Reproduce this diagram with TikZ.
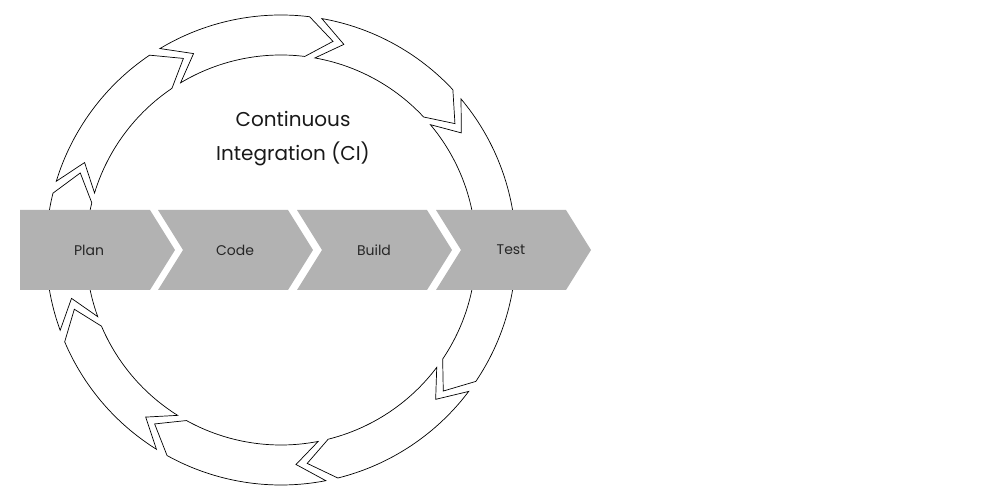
\documentclass[tikz,border=0pt]{standalone}
\usepackage{fontspec}
\setmainfont{Poppins}
\begin{document}
\begin{tikzpicture}[x=1pt,y=1pt,
  seg/.style={draw=black,fill=white,line width=0.7pt,line join=miter},
  chev/.style={fill=black!30,draw=none},
  lbl/.style={font=\fontsize{14}{16}\selectfont,text=black!85}]
\useasboundingbox (0,0) rectangle (1000,500);
\def\Ro{235}\def\Ri{195}\def\Rm{215}
\begin{scope}[shift={(281,250)}]
\foreach \a/\b in {163/124,121/83,80/43,40/-34,-37/-76,-79/-119,-122/-157,-160/-194}{
  \draw[seg] (\a:\Ro) arc[start angle=\a,end angle=\b,radius=\Ro]
    -- ({\b-7}:\Rm) -- (\b:\Ri) arc[start angle=\b,end angle=\a,radius=\Ri]
    -- ({\a-7}:\Rm) -- cycle;
}
\end{scope}
% banner
\fill[chev] (20,290) -- (150,290) -- (175,250) -- (150,210) -- (20,210) -- cycle;
\foreach \x in {158,297,436}{
  \fill[chev] (\x,290) -- (\x+130,290) -- (\x+155,250) -- (\x+130,210) -- (\x,210) -- (\x+25,250) -- cycle;
}
\node[lbl] (plan) at (89,250) {Plan};
\node[lbl] (code) at (235,250) {Code};
\node[lbl] (build) at (374,250) {Build};
\node[lbl] (test) at (511,250) {Test};
\node[align=center,font=\fontsize{20}{34}\selectfont,text=black!90] (title) at (293,361) {Continuous\\Integration (CI)};
\end{tikzpicture}
\end{document}
